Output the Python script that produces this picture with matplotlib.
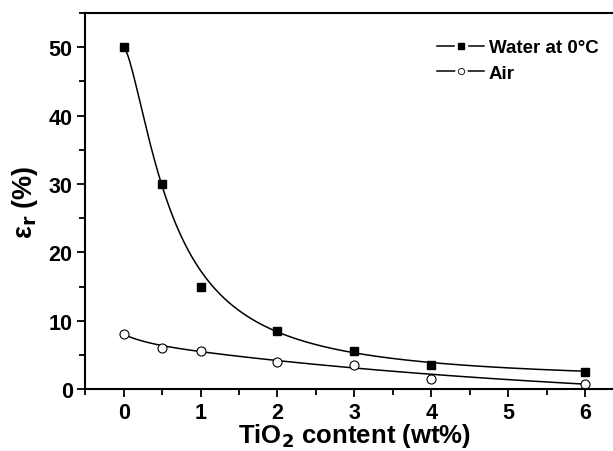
import numpy as np
import matplotlib.pyplot as plt
from matplotlib.ticker import MultipleLocator
from matplotlib.legend_handler import HandlerTuple

# TiO2 content (wt%) and strain values
tio2 = [0, 0.5, 1, 2, 3, 4, 6]
water_0c = [50, 30, 15, 8.5, 5.5, 3.5, 2.5]
air = [8, 6, 5.5, 4, 3.5, 1.5, 0.8]

# fitted curves drawn in the figure (parameters)
water_fit = dict(a1=50.0, a2=1.0, x0=0.63, p=1.5)                 # logistic
air_fit = dict(y0=-3.0, a1=1.05, t1=0.3, a2=9.95, t2=6.1)         # exp. decay, 2nd order


def logistic(x, a1, a2, x0, p):
    return a2 + (a1 - a2) / (1 + (x / x0) ** p)


def expdec2(x, y0, a1, t1, a2, t2):
    return y0 + a1 * np.exp(-x / t1) + a2 * np.exp(-x / t2)


plt.rcParams['font.family'] = ['Liberation Sans', 'DejaVu Sans']
plt.rcParams['font.weight'] = 'bold'
plt.rcParams['mathtext.default'] = 'bf'

fig = plt.figure(figsize=(6.13, 4.52), dpi=100)
ax = fig.add_axes([0.139, 0.137, 0.878, 0.832])

xs = np.linspace(0, 6, 300)
ax.plot(xs, logistic(xs, **water_fit), color='black', lw=1.1)
ax.plot(xs, expdec2(xs, **air_fit), color='black', lw=1.1)
ax.plot(tio2, water_0c, 's', color='black', ms=6, ls='none')
ax.plot(tio2, air, 'o', mfc='white', mec='black', mew=0.8, ms=6.5, ls='none')

# legend handles: line - gap - marker - gap - line
ln, = ax.plot([], [], '-', color='black', lw=1.1)
bg_s, = ax.plot([], [], 's', color='white', ms=8, ls='none')
mk_s, = ax.plot([], [], 's', color='black', ms=4.5, ls='none')
bg_o, = ax.plot([], [], 'o', color='white', ms=8, ls='none')
mk_o, = ax.plot([], [], 'o', mfc='white', mec='black', mew=0.6, ms=4.5, ls='none')
ax.legend([(ln, bg_s, mk_s), (ln, bg_o, mk_o)], ['Water at 0°C', 'Air'],
          handler_map={tuple: HandlerTuple(ndivide=1)},
          loc='upper right', bbox_to_anchor=(0.985, 0.975), frameon=False,
          handlelength=2.5, handletextpad=0.25, labelspacing=0.45,
          prop={'weight': 'bold', 'size': 13.5})

ax.set_xlim(-0.5, 6.5)
ax.set_ylim(0, 55)
ax.xaxis.set_major_locator(MultipleLocator(1))
ax.xaxis.set_minor_locator(MultipleLocator(0.5))
ax.yaxis.set_major_locator(MultipleLocator(10))
ax.yaxis.set_minor_locator(MultipleLocator(5))
ax.tick_params(which='both', direction='out', width=1.3, labelsize=15.5, pad=3)
ax.tick_params(which='major', length=6)
ax.tick_params(which='minor', length=4)
for lab in ax.get_xticklabels() + ax.get_yticklabels():
    lab.set_fontweight('bold')
for sp in ax.spines.values():
    sp.set_linewidth(1.5)

ax.set_xlabel('TiO$_2$ content (wt%)', fontsize=18.5, fontweight='bold', labelpad=-1)
ax.set_ylabel('ε$_r$ (%)', fontsize=19.5, fontweight='bold', labelpad=6)

fig.savefig('out.png', dpi=100)
